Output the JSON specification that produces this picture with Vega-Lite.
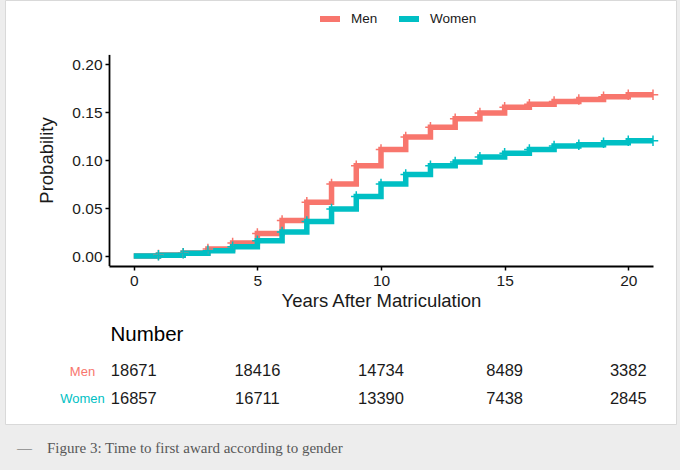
{
  "$schema": "https://vega.github.io/schema/vega-lite/v6.json",
  "autosize": "none",
  "width": 671,
  "height": 424,
  "padding": {"left": 5, "top": 0, "right": 4, "bottom": 46},
  "background": "#ededed",
  "config": {
    "view": {"fill": "#ffffff", "stroke": "#d9d9d9", "strokeWidth": 1},
    "font": "Liberation Sans"
  },
  "title": {
    "text": "—\u2003Figure 3: Time to first award according to gender",
    "orient": "bottom",
    "anchor": "start",
    "frame": "group",
    "dx": 12,
    "offset": 17,
    "font": "Liberation Serif",
    "fontSize": 15,
    "fontWeight": "normal",
    "color": "#585858"
  },
  "datasets": {
    "curve": [
      {"sex": "Men", "year": 0, "p": 0},
      {"sex": "Men", "year": 1, "p": 0.001},
      {"sex": "Men", "year": 2, "p": 0.003},
      {"sex": "Men", "year": 3, "p": 0.0073},
      {"sex": "Men", "year": 4, "p": 0.0135},
      {"sex": "Men", "year": 5, "p": 0.0235},
      {"sex": "Men", "year": 6, "p": 0.037},
      {"sex": "Men", "year": 7, "p": 0.056},
      {"sex": "Men", "year": 8, "p": 0.075},
      {"sex": "Men", "year": 9, "p": 0.094},
      {"sex": "Men", "year": 10, "p": 0.111},
      {"sex": "Men", "year": 11, "p": 0.124},
      {"sex": "Men", "year": 12, "p": 0.134},
      {"sex": "Men", "year": 13, "p": 0.143},
      {"sex": "Men", "year": 14, "p": 0.149},
      {"sex": "Men", "year": 15, "p": 0.155},
      {"sex": "Men", "year": 16, "p": 0.158},
      {"sex": "Men", "year": 17, "p": 0.161},
      {"sex": "Men", "year": 18, "p": 0.163},
      {"sex": "Men", "year": 19, "p": 0.166},
      {"sex": "Men", "year": 20, "p": 0.168},
      {"sex": "Men", "year": 21, "p": 0.168},
      {"sex": "Women", "year": 0, "p": 0},
      {"sex": "Women", "year": 1, "p": 0.0007},
      {"sex": "Women", "year": 2, "p": 0.0028},
      {"sex": "Women", "year": 3, "p": 0.0055},
      {"sex": "Women", "year": 4, "p": 0.0097},
      {"sex": "Women", "year": 5, "p": 0.016},
      {"sex": "Women", "year": 6, "p": 0.025},
      {"sex": "Women", "year": 7, "p": 0.036},
      {"sex": "Women", "year": 8, "p": 0.049},
      {"sex": "Women", "year": 9, "p": 0.062},
      {"sex": "Women", "year": 10, "p": 0.075},
      {"sex": "Women", "year": 11, "p": 0.085},
      {"sex": "Women", "year": 12, "p": 0.094},
      {"sex": "Women", "year": 13, "p": 0.098},
      {"sex": "Women", "year": 14, "p": 0.103},
      {"sex": "Women", "year": 15, "p": 0.107},
      {"sex": "Women", "year": 16, "p": 0.111},
      {"sex": "Women", "year": 17, "p": 0.1145},
      {"sex": "Women", "year": 18, "p": 0.116},
      {"sex": "Women", "year": 19, "p": 0.118},
      {"sex": "Women", "year": 20, "p": 0.12},
      {"sex": "Women", "year": 21, "p": 0.12}
    ],
    "risk": [
      {"sex": "Men", "year": 0, "n": 18671},
      {"sex": "Men", "year": 5, "n": 18416},
      {"sex": "Men", "year": 10, "n": 14734},
      {"sex": "Men", "year": 15, "n": 8489},
      {"sex": "Men", "year": 20, "n": 3382},
      {"sex": "Women", "year": 0, "n": 16857},
      {"sex": "Women", "year": 5, "n": 16711},
      {"sex": "Women", "year": 10, "n": 13390},
      {"sex": "Women", "year": 15, "n": 7438},
      {"sex": "Women", "year": 20, "n": 2845}
    ]
  },
  "encoding": {
    "x": {
      "field": "year",
      "type": "quantitative",
      "scale": {"domain": [-1, 21], "range": [104, 648], "nice": false, "zero": false},
      "axis": {
        "title": "Years After Matriculation",
        "values": [0, 5, 10, 15, 20],
        "offset": -158,
        "grid": false,
        "domainColor": "#000000",
        "domainWidth": 1.8,
        "tickColor": "#000000",
        "tickWidth": 1.5,
        "tickSize": 4,
        "labelFontSize": 15.5,
        "labelColor": "#1a1a1a",
        "labelPadding": 3,
        "labelFlush": false,
        "titleFontSize": 18.5,
        "titleFontWeight": "normal",
        "titleColor": "#1a1a1a",
        "titlePadding": 3
      }
    }
  },
  "layer": [
    {
      "data": {"name": "curve"},
      "mark": {"type": "line", "interpolate": "step-after", "strokeWidth": 5.5, "strokeCap": "butt", "strokeJoin": "miter"},
      "encoding": {
        "y": {
          "field": "p",
          "type": "quantitative",
          "scale": {"domain": [-0.01, 0.21], "range": [265.6, 54.4], "nice": false, "zero": false},
          "axis": {
            "title": "Probability",
            "values": [0, 0.05, 0.1, 0.15, 0.2],
            "format": ".2f",
            "offset": -104,
            "grid": false,
            "domainColor": "#000000",
            "domainWidth": 1.8,
            "tickColor": "#000000",
            "tickWidth": 1.5,
            "tickSize": 4,
            "labelFontSize": 15.5,
            "labelColor": "#1a1a1a",
            "labelPadding": 3,
            "labelFlush": false,
            "titleFontSize": 18.5,
            "titleFontWeight": "normal",
            "titleColor": "#1a1a1a",
            "titlePadding": 15
          }
        },
        "color": {
          "field": "sex",
          "type": "nominal",
          "scale": {"domain": ["Men", "Women"], "range": ["#F8766D", "#00BFC4"]},
          "legend": {
            "title": null,
            "orient": "none",
            "direction": "horizontal",
            "legendX": 312,
            "legendY": 6,
            "padding": 0,
            "symbolType": "M-1,0H1",
            "symbolSize": 400,
            "symbolStrokeWidth": 6,
            "symbolOpacity": 1,
            "labelFontSize": 13.5,
            "labelColor": "#1a1a1a",
            "labelOffset": 8,
            "columnPadding": 9
          }
        }
      }
    },
    {
      "data": {"name": "curve"},
      "transform": [{"filter": "datum.year >= 1"}],
      "mark": {"type": "point", "shape": "M0,-1V1M-1,0H1", "filled": false, "size": 110, "strokeWidth": 1.5, "opacity": 1},
      "encoding": {
        "y": {
          "field": "p",
          "type": "quantitative",
          "scale": {"domain": [-0.01, 0.21], "range": [265.6, 54.4], "nice": false, "zero": false},
          "axis": null
        },
        "color": {"field": "sex", "type": "nominal"}
      }
    },
    {
      "data": {"name": "risk"},
      "mark": {"type": "text", "fontSize": 16.5, "color": "#1a1a1a", "align": "center", "baseline": "middle"},
      "encoding": {
        "y": {
          "field": "sex",
          "type": "nominal",
          "scale": {"type": "point", "domain": ["Men", "Women"], "range": [371, 398.5], "padding": 0},
          "axis": {
            "orient": "left",
            "offset": -104,
            "domain": false,
            "ticks": false,
            "tickSize": 0,
            "grid": false,
            "labelPadding": 27,
            "labelAlign": "center",
            "labelFontSize": 13,
            "labelColor": {"condition": {"test": "datum.value === 'Men'", "value": "#F8766D"}, "value": "#00BFC4"},
            "title": "Number",
            "titleAngle": 0,
            "titleAlign": "left",
            "titleBaseline": "middle",
            "titleX": 1,
            "titleY": 334,
            "titleFontSize": 20.5,
            "titleFontWeight": "normal",
            "titleColor": "#000000"
          }
        },
        "text": {"field": "n", "type": "quantitative", "format": "d"}
      }
    }
  ],
  "resolve": {"scale": {"y": "independent"}, "axis": {"y": "independent"}}
}
